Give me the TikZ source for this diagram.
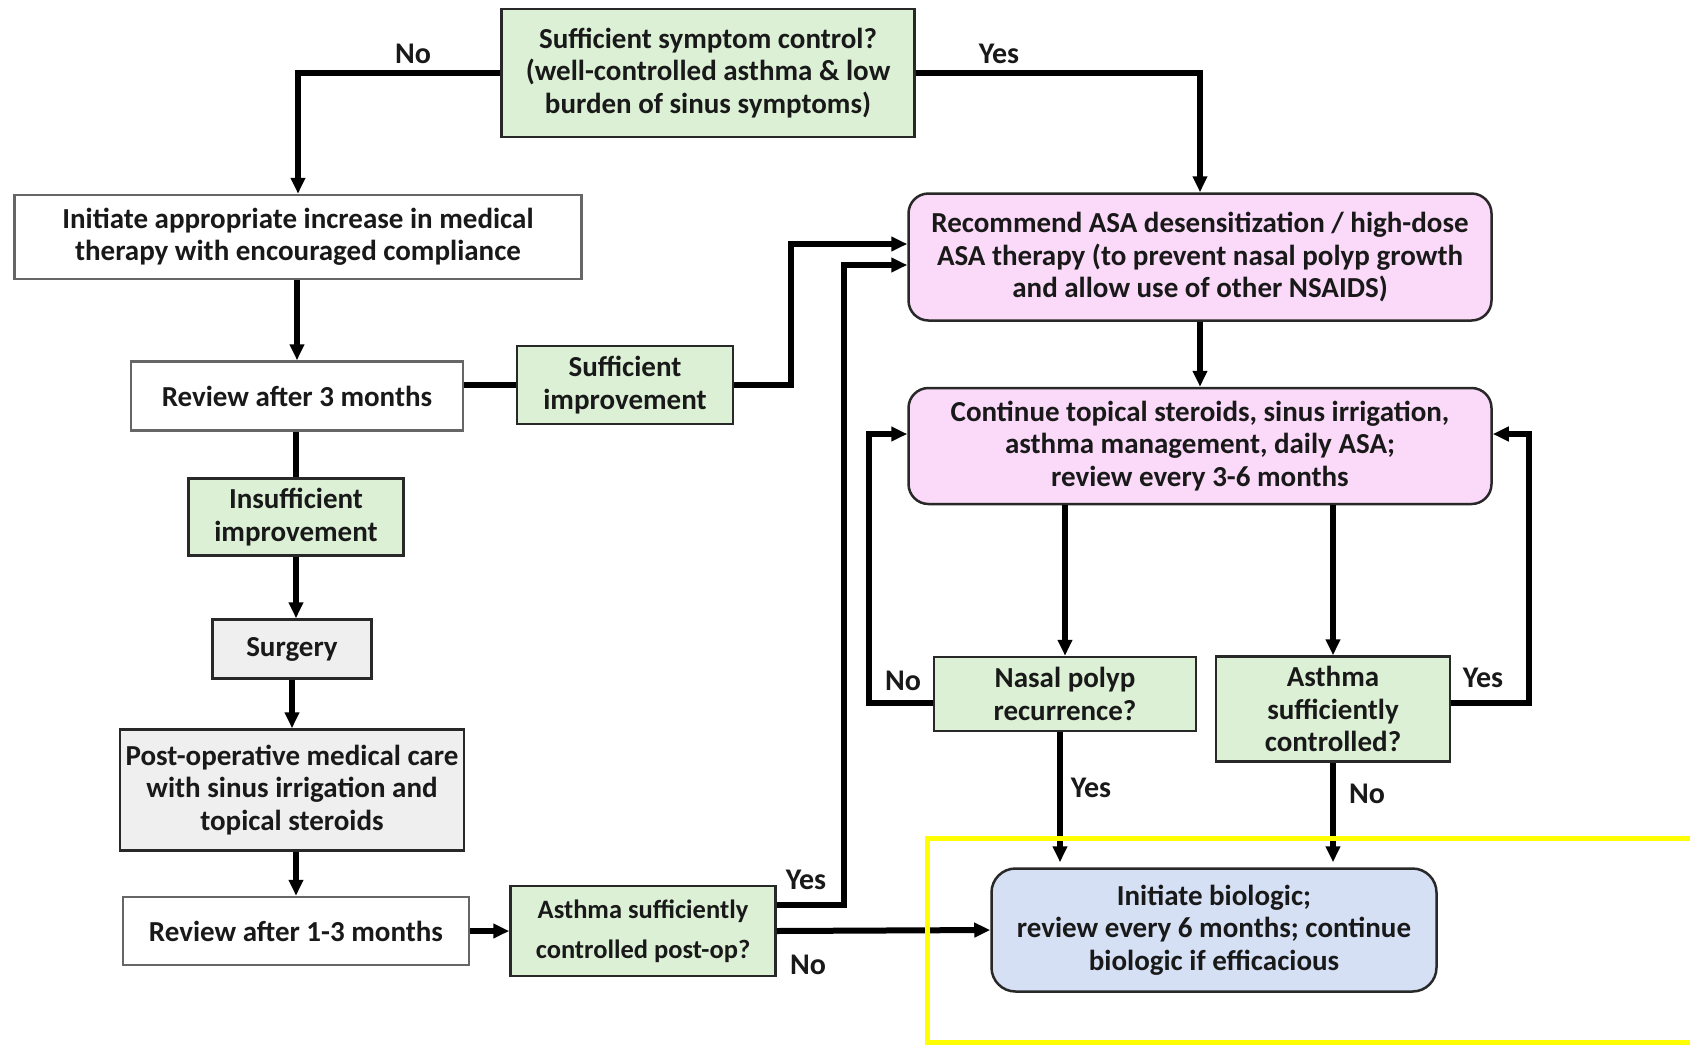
\documentclass[tikz,border=0pt]{standalone}
\usepackage{fontspec}
\setmainfont{Carlito}
\usetikzlibrary{arrows.meta}

\definecolor{qgreen}{RGB}{220,240,214}
\definecolor{tpink}{RGB}{250,218,248}
\definecolor{bblue}{RGB}{214,224,245}
\definecolor{sgrey}{RGB}{239,239,239}
\definecolor{edge}{RGB}{40,40,40}
\definecolor{hilite}{RGB}{255,255,0}

\tikzset{
  box/.style={draw=edge,line width=2.5pt,align=center,inner sep=0pt,text=black!90,
    font=\fontsize{29}{32.5}\selectfont\bfseries},
  whitebox/.style={box,draw=black!60,fill=white},
  greenbox/.style={box,fill=qgreen},
  greybox/.style={box,fill=sgrey},
  pinkbox/.style={box,fill=tpink,rounded corners=20pt},
  bluebox/.style={box,fill=bblue,rounded corners=24pt},
  lbl/.style={font=\fontsize{30}{32}\selectfont\bfseries,text=black!90},
  link/.style={line width=6pt},
  arr/.style={link,-{Triangle[length=16pt,width=14pt]}},
}

\begin{document}
\begin{tikzpicture}[x=1pt,y=-1pt,line join=miter]
\useasboundingbox (0,0) rectangle (1690,1045);
\fill[white] (0,0) rectangle (1690,1045);

% boxes
\node[greenbox,minimum width=413pt,minimum height=128pt] (q1) at (708,73)
  {Sufficient symptom control?\\(well-controlled asthma \& low\\burden of sinus symptoms)};
\node[whitebox,minimum width=567pt,minimum height=84pt] (a1) at (298,237)
  {Initiate appropriate increase in medical\\therapy with encouraged compliance};
\node[pinkbox,minimum width=583pt,minimum height=127pt] (r1) at (1200,257)
  {Recommend ASA desensitization / high-dose\\ASA therapy (to prevent nasal polyp growth\\and allow use of other NSAIDS)};
\node[whitebox,minimum width=332pt,minimum height=69pt] (rv3) at (297,396)
  {Review after 3 months};
\node[greenbox,minimum width=216pt,minimum height=78pt] (si) at (625,385)
  {Sufficient\\improvement};
\node[greenbox,minimum width=215pt,minimum height=77pt] (ii) at (296,517)
  {Insufficient\\improvement};
\node[greybox,minimum width=159pt,minimum height=59pt] (surg) at (292,649)
  {Surgery};
\node[greybox,minimum width=344pt,minimum height=121pt] (post) at (292,790)
  {Post-operative medical care\\with sinus irrigation and\\topical steroids};
\node[whitebox,minimum width=346pt,minimum height=68pt] (rv13) at (296,931)
  {Review after 1-3 months};
\node[greenbox,minimum width=265pt,minimum height=90pt,font=\fontsize{26.5}{40}\selectfont\bfseries] (apo) at (643,931)
  {Asthma sufficiently\\controlled post-op?};
\node[pinkbox,minimum width=583pt,minimum height=116pt] (cont) at (1200,446)
  {Continue topical steroids, sinus irrigation,\\asthma management, daily ASA;\\review every 3-6 months};
\node[greenbox,minimum width=262pt,minimum height=74pt] (np) at (1065,694)
  {Nasal polyp\\recurrence?};
\node[greenbox,minimum width=234pt,minimum height=105pt] (ac) at (1333,709)
  {Asthma\\sufficiently\\controlled?};
\node[bluebox,minimum width=445pt,minimum height=123pt] (bio) at (1214,930)
  {Initiate biologic;\\review every 6 months; continue\\biologic if efficacious};

% connectors
\draw[arr] (q1.west) -| (a1.north);
\draw[arr] (q1.east) -| (r1.north);
\draw[arr] (a1.south -| rv3.north) -- (rv3.north);
\draw[link] (si.west -| rv3.east) -- (si.west);
\draw[arr] (si.east) -- ++(57,0) |- ([yshift=13pt]r1.west);
\draw[link] (rv3.south -| ii.north) -- (ii.north);
\draw[arr] (ii.south) -- (ii.south |- surg.north);
\draw[arr] (surg.south) -- (surg.south |- post.north);
\draw[arr] (post.south -| rv13.north) -- (rv13.north);
\draw[arr] (rv13.east) -- (apo.west);
\draw[arr] ([yshift=26pt]apo.east) -- ++(67,0) |- ([yshift=-8pt]r1.west);
\draw[arr] (apo.east) -- (bio.west);
\draw[arr] (r1.south) -- (cont.north);
\draw[arr] (cont.south -| np.north) -- (np.north);
\draw[arr] (cont.south -| ac.north) -- (ac.north);
\draw[arr] ([yshift=-9pt]np.west) -- ++(-64,0) |- ([yshift=12pt]cont.west);
\draw[arr] ([yshift=6pt]ac.east) -- ++(78,0) |- ([yshift=12pt]cont.east);
\draw[arr,shorten >=5pt] ([xshift=-5pt]np.south) -- ([xshift=-5pt]np.south |- bio.north);
\draw[arr,shorten >=5pt] (ac.south) -- (ac.south |- bio.north);

% branch labels
\node[lbl] (q1no) at (413,54) {No};
\node[lbl] (q1yes) at (999,54) {Yes};
\node[lbl] (apoyes) at (806,880) {Yes};
\node[lbl] (apono) at (808,965) {No};
\node[lbl] (npno) at (903,681) {No};
\node[lbl] (acyes) at (1483,678) {Yes};
\node[lbl] (npyes) at (1091,788) {Yes};
\node[lbl] (acno) at (1367,794) {No};

% highlight frame
\draw[hilite,line width=5pt] (1690,838) -- (927,838) -- (927,1042) -- (1690,1042);
\end{tikzpicture}
\end{document}
